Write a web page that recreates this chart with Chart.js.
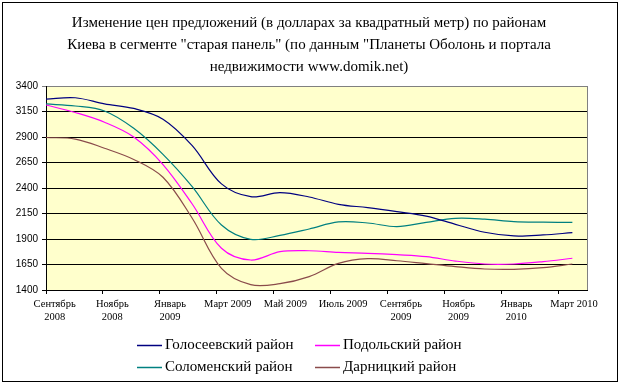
<!DOCTYPE html>
<html><head><meta charset="utf-8">
<script src="https://cdn.jsdelivr.net/npm/chart.js@4/dist/chart.umd.min.js"></script>
<style>html,body{margin:0;padding:0;background:#fff}#wrap{width:623px;height:386px;position:relative}</style>
</head><body><div id="wrap"><canvas id="c" width="623" height="386"></canvas></div>
<script>
const titleLines = [
  'Изменение цен предложений (в долларах за квадратный метр) по районам',
  'Киева в сегменте "старая панель" (по данным "Планеты Оболонь и портала',
  'недвижимости www.domik.net)'
];
const months = ['Сентябрь 2008','Октябрь 2008','Ноябрь 2008','Декабрь 2008','Январь 2009','Февраль 2009','Март 2009','Апрель 2009','Май 2009','Июнь 2009','Июль 2009','Август 2009','Сентябрь 2009','Октябрь 2009','Ноябрь 2009','Декабрь 2009','Январь 2010','Февраль 2010','Март 2010'];
const xLabels = [['Сентябрь','2008'],['Ноябрь','2008'],['Январь','2009'],['Март 2009'],['Май 2009'],['Июль 2009'],['Сентябрь','2009'],['Ноябрь','2009'],['Январь','2010'],['Март 2010']];
const yTicks = [1400,1650,1900,2150,2400,2650,2900,3150,3400];
const seriesNames = ['Голосеевский район','Подольский район','Соломенский район','Дарницкий район'];
const goloseev = [3272,3285,3225,3180,3075,2815,2440,2315,2354,2312,2240,2207,2168,2125,2044,1966,1930,1940,1962];
const podol    = [3214,3140,3045,2900,2630,2243,1809,1694,1776,1785,1769,1760,1746,1727,1684,1655,1655,1678,1711];
const solomen  = [3224,3204,3155,2985,2730,2413,2037,1897,1935,1998,2067,2057,2021,2063,2103,2095,2070,2065,2063];
const darn     = [2895,2880,2790,2680,2505,2103,1612,1452,1462,1531,1661,1707,1687,1658,1629,1606,1603,1619,1655];
const colors = ['#000080','#ff00ff','#008080','#8a4b4b'];

const seriesValues = [goloseev, podol, solomen, darn];
const datasets = seriesValues.map((vals, k) => ({
  label: seriesNames[k],
  data: vals.map((v, i) => ({x: i, y: v})),
  borderColor: colors[k],
  backgroundColor: colors[k],
  borderWidth: 1.2,
  pointRadius: 0,
  tension: 0.35,
  fill: false
}));

const serif = '"Liberation Serif","Times New Roman",serif';
const sans = '"Liberation Sans",Arial,sans-serif';

const decor = {
  id: 'decor',
  beforeDraw(chart) {
    const c = chart.ctx, a = chart.chartArea;
    c.save();
    c.fillStyle = '#fff';
    c.fillRect(0, 0, chart.width, chart.height);
    c.fillStyle = '#ffffcc';
    c.fillRect(a.left, a.top, a.right - a.left, a.bottom - a.top);
    c.strokeStyle = '#000';
    c.lineWidth = 1;
    c.strokeRect(2.5, 2.5, 615, 379);
    c.restore();
  },
  beforeDatasetsDraw(chart) {
    const c = chart.ctx, a = chart.chartArea;
    c.save();
    c.strokeStyle = '#808080';
    c.lineWidth = 1;
    c.beginPath();
    c.moveTo(Math.round(a.right) + 0.5, a.top);
    c.lineTo(Math.round(a.right) + 0.5, a.bottom);
    c.stroke();
    c.restore();
  },
  afterDraw(chart) {
    const c = chart.ctx;
    c.save();
    c.fillStyle = '#000';
    c.textAlign = 'center';
    c.textBaseline = 'middle';
    c.font = '15px ' + serif;
    titleLines.forEach((t, i) => c.fillText(t, 309, 23 + i * 22));
    // legend, 2 columns x 2 rows
    c.font = '15px ' + serif;
    c.textAlign = 'left';
    const colX = [137, 315], rowY = [345, 367];
    chart.data.datasets.forEach((ds, k) => {
      const x = colX[k % 2], y = rowY[Math.floor(k / 2)];
      c.strokeStyle = ds.borderColor;
      c.lineWidth = 1.5;
      c.beginPath();
      c.moveTo(x, y + 0.5);
      c.lineTo(x + 25, y + 0.5);
      c.stroke();
      c.fillStyle = '#000';
      c.fillText(ds.label, x + 28, y);
    });
    c.restore();
  }
};

new Chart(document.getElementById('c'), {
  type: 'line',
  data: { datasets },
  options: {
    responsive: false,
    animation: false,
    layout: { padding: { left: 0, right: 36, top: 86, bottom: 52 } },
    plugins: { legend: { display: false }, title: { display: false }, tooltip: { enabled: false } },
    scales: {
      x: {
        type: 'linear', min: 0, max: 18.5, display: false
      },
      xt: {
        type: 'linear', position: 'bottom', min: 0, max: 19,
        afterBuildTicks: s => { s.ticks = xLabels.map((_, i) => ({ value: i * 2 })); },
        ticks: { display: false },
        grid: { drawOnChartArea: false, drawTicks: true, tickLength: 4, color: '#000' },
        border: { color: '#000', width: 1 },
        afterFit: s => { s.height = 4; }
      },
      xl: {
        type: 'linear', position: 'bottom', min: -0.3, max: 18.45,
        afterBuildTicks: s => { s.ticks = xLabels.map((_, i) => ({ value: i * 2 })); },
        ticks: {
          autoSkip: false, maxRotation: 0, padding: 4, color: '#000',
          font: { family: serif, size: 10.5, lineHeight: 1.25 },
          callback: (v, i) => xLabels[i]
        },
        grid: { display: false, drawTicks: false, tickLength: 0 },
        border: { display: false },
        afterFit: s => { s.height = 40; }
      },
      y: {
        min: 1400, max: 3400,
        afterBuildTicks: s => { s.ticks = yTicks.map(v => ({ value: v })); },
        ticks: { color: '#000', padding: 4, font: { family: sans, size: 10 }, callback: v => String(v) },
        grid: {
          color: c => (c.tick && c.tick.value === 3400) ? '#808080' : '#000',
          lineWidth: 1, tickLength: 4, drawTicks: true
        },
        border: { color: '#000', width: 1 },
        afterFit: s => { s.width = 46; }
      }
    }
  },
  plugins: [decor]
});
</script>
</body></html>
